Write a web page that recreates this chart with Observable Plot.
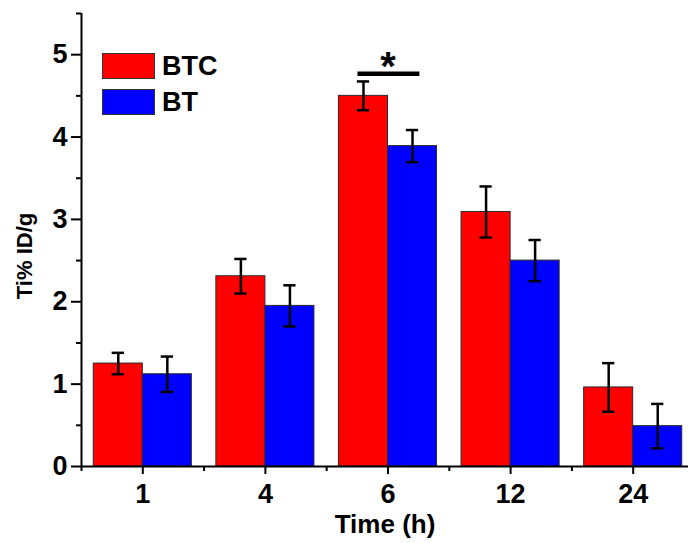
<!DOCTYPE html>
<html>
<head>
<meta charset="utf-8">
<script src="https://cdn.jsdelivr.net/npm/d3@7"></script>
<script src="https://cdn.jsdelivr.net/npm/@observablehq/plot@0.6"></script>
<style>
  html, body { margin: 0; padding: 0; background: #fff; }
  #wrap { position: relative; width: 688px; height: 543px; font-family: "Liberation Sans", Arial, sans-serif; font-weight: bold; }
  #legend { position: absolute; left: 102px; top: 53px; z-index: 2; }
  .item { display: flex; align-items: center; height: 26px; margin-bottom: 10px; }
  .sw { width: 53px; height: 26px; border: 1px solid #333; box-sizing: border-box; margin-right: 7px; }
  .lab { font-size: 27px; line-height: 26px; color: #000; }
</style>
</head>
<body>
<div id="wrap"><div id="legend"></div></div>
<script>
const times = ["1", "4", "6", "12", "24"];
const series = ["BTC", "BT"];
const seriesColors = ["#ff0000", "#0000ff"];
const btcMean = [1.25, 2.31, 4.50, 3.09, 0.96];
const btcErr = [0.13, 0.21, 0.175, 0.31, 0.295];
const btMean = [1.12, 1.95, 3.89, 2.50, 0.49];
const btErr = [0.215, 0.25, 0.195, 0.25, 0.27];
const yTicks = [0, 1, 2, 3, 4, 5];
const sigTime = "6";
const sigLevel = 4.77;

const barW = 0.40;
const capW = 0.05;
const rows = [];
times.forEach((t, i) => {
  rows.push({i, time: t, series: "BTC", value: btcMean[i], err: btcErr[i], x1: i - barW, x2: i, c: i - barW / 2});
  rows.push({i, time: t, series: "BT", value: btMean[i], err: btErr[i], x1: i, x2: i + barW, c: i + barW / 2});
});
const si = times.indexOf(sigTime);
const sig = [{x1: si - barW / 2 - 0.045, x2: si + barW / 2 + 0.06, y: sigLevel, xc: si}];
const xDomain = [-0.5, times.length - 0.5];
const yDomain = [0, 5.5];

const chart = Plot.plot({
  width: 688,
  height: 543,
  marginLeft: 81,
  marginRight: 0,
  marginTop: 13,
  marginBottom: 77,
  style: {fontFamily: "Liberation Sans, Arial, sans-serif", fontWeight: "bold", fontSize: "26px", color: "#000", background: "transparent"},
  x: {domain: xDomain, range: [81, 694], axis: null},
  y: {domain: yDomain, axis: null},
  color: {domain: series, range: seriesColors},
  marks: [
    Plot.rectY(rows, {x1: "x1", x2: "x2", y: "value", fill: "series", stroke: "#2a2a2a", strokeWidth: 1}),
    Plot.ruleX(rows, {x: "c", y1: d => d.value - d.err, y2: d => d.value + d.err, stroke: "#000", strokeWidth: 2.5}),
    Plot.ruleY(rows, {y: d => d.value + d.err, x1: d => d.c - capW, x2: d => d.c + capW, stroke: "#000", strokeWidth: 2.5}),
    Plot.ruleY(rows, {y: d => d.value - d.err, x1: d => d.c - capW, x2: d => d.c + capW, stroke: "#000", strokeWidth: 2.5}),
    Plot.ruleY(sig, {y: "y", x1: "x1", x2: "x2", stroke: "#000", strokeWidth: 4.5}),
    Plot.text(sig, {x: "xc", y: "y", text: () => "*", fontSize: 40, fontWeight: "bold", lineAnchor: "middle", dy: -6}),
    Plot.ruleX([xDomain[0]], {y1: yDomain[0], y2: yDomain[1], stroke: "#000", strokeWidth: 2}),
    Plot.ruleY([0], {stroke: "#000", strokeWidth: 2}),
    Plot.axisY({ticks: yTicks, tickFormat: d3.format("d"), tickSize: 10, tickPadding: 4, strokeWidth: 2, fontSize: 27, fontWeight: "bold", label: null}),
    Plot.axisY({ticks: d3.range(0.5, 5.6, 1), tickSize: 5, strokeWidth: 2, tickFormat: () => "", label: null}),
    Plot.axisX({ticks: times.map((t, i) => i), tickFormat: i => times[i], tickSize: 8, tickPadding: 9, strokeWidth: 2, fontSize: 27, fontWeight: "bold", label: null}),
    Plot.axisX({ticks: d3.range(-0.5, times.length, 1), tickSize: 5, strokeWidth: 2, tickFormat: () => "", label: null}),
    Plot.text(["Time (h)"], {frameAnchor: "bottom", dy: 58, fontSize: 26, fontWeight: "bold", lineAnchor: "middle", textAnchor: "middle"}),
    Plot.text(["Ti% ID/g"], {frameAnchor: "left", rotate: -90, dx: -57, dy: 16, fontSize: 22, fontWeight: "bold", lineAnchor: "middle", textAnchor: "middle"})
  ]
});
document.getElementById("wrap").appendChild(chart);
chart.style.position = "absolute";
chart.style.left = "0";
chart.style.top = "0";

const legend = document.getElementById("legend");
series.forEach((s, k) => {
  const item = document.createElement("div");
  item.className = "item";
  const sw = document.createElement("div");
  sw.className = "sw";
  sw.style.background = seriesColors[k];
  const lab = document.createElement("span");
  lab.className = "lab";
  lab.textContent = s;
  item.appendChild(sw);
  item.appendChild(lab);
  legend.appendChild(item);
});
</script>
</body>
</html>
